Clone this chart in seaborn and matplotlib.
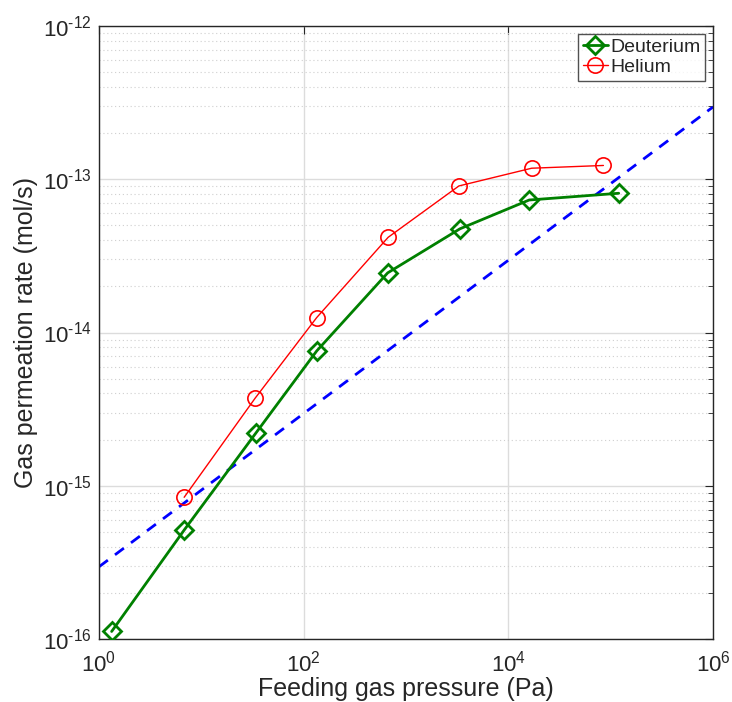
import numpy as np
import pandas as pd
import seaborn as sns
import matplotlib
matplotlib.use("Agg")
import matplotlib.pyplot as plt
from matplotlib.ticker import LogLocator, NullLocator, NullFormatter, FuncFormatter

# Data
deut_pressure = [1.33, 6.8, 34, 134, 663, 3370, 16000, 120000]
deut_rate = [1.12e-16, 5.14e-16, 2.20e-15, 7.57e-15, 2.45e-14, 4.75e-14, 7.32e-14, 8.10e-14]

he_pressure = [6.8, 33.5, 134, 670, 3290, 16900, 85000]
he_rate = [8.41e-16, 3.72e-15, 1.25e-14, 4.18e-14, 9.04e-14, 1.18e-13, 1.23e-13]

# dashed reference line (end points)
ref_pressure = [1, 1e6]
ref_rate = [2.96e-16, 2.96e-13]

x_ticks = [1, 1e2, 1e4, 1e6]
y_ticks = [1e-16, 1e-15, 1e-14, 1e-13, 1e-12]

sns.set_style("white")
plt.rcParams['font.family'] = ['Liberation Sans', 'DejaVu Sans']
plt.rcParams['mathtext.fontset'] = 'custom'
plt.rcParams['mathtext.rm'] = 'Liberation Sans'
plt.rcParams['mathtext.it'] = 'Liberation Sans:italic'
plt.rcParams['axes.unicode_minus'] = False

df_d = pd.DataFrame({'p': deut_pressure, 'r': deut_rate})
df_h = pd.DataFrame({'p': he_pressure, 'r': he_rate})
df_ref = pd.DataFrame({'p': ref_pressure, 'r': ref_rate})

fig = plt.figure(figsize=(7.32, 7.02), dpi=100)
ax = fig.add_axes([0.1352, 0.0897, 0.974 - 0.1352, 0.963 - 0.0897])

sns.lineplot(data=df_d, x='p', y='r', ax=ax, sort=False, color='#008000', lw=2,
             marker='D', markersize=9, markerfacecolor='none', markeredgecolor='#008000',
             markeredgewidth=2, label='Deuterium', zorder=3)
sns.lineplot(data=df_h, x='p', y='r', ax=ax, sort=False, color='#ff0000', lw=1,
             marker='o', markersize=11, markerfacecolor='none', markeredgecolor='#ff0000',
             markeredgewidth=1.2, label='Helium', zorder=3)
sns.lineplot(data=df_ref, x='p', y='r', ax=ax, sort=False, color='#0000ff', lw=2,
             linestyle=(0, (4, 3.2)), zorder=2, legend=False)

ax.set_xscale('log')
ax.set_yscale('log')
ax.set_xlim(1, 1e6)
ax.set_ylim(1e-16, 1e-12)

# MATLAB style labels: 10^-16 with a short hyphen
def pow10(v, pos):
    e = int(round(np.log10(v)))
    if e < 0:
        return r'$10^{\text{-}%d}$' % (-e)
    return r'$10^{%d}$' % e

ax.set_xticks(x_ticks)
ax.xaxis.set_minor_locator(NullLocator())
ax.xaxis.set_major_formatter(FuncFormatter(pow10))
ax.set_yticks(y_ticks)
ax.yaxis.set_minor_locator(LogLocator(base=10, subs=np.arange(2, 10), numticks=20))
ax.yaxis.set_minor_formatter(NullFormatter())
ax.yaxis.set_major_formatter(FuncFormatter(pow10))

ax.grid(which='major', color='#dcdcdc', lw=1, linestyle='-')
ax.grid(which='minor', axis='y', color='#cfcfcf', lw=0.8, linestyle=(0, (1, 2.5)))
ax.set_axisbelow(True)

ax.tick_params(which='both', direction='in', top=True, right=True, colors='#262626',
               labelsize=16)
ax.tick_params(axis='x', pad=8)
ax.tick_params(axis='y', pad=5)
ax.tick_params(which='major', length=6)
ax.tick_params(which='minor', length=3.5)
for s in ax.spines.values():
    s.set_color('#262626')
    s.set_linewidth(1)

ax.set_xlabel('Feeding gas pressure (Pa)', fontsize=18, color='#262626')
ax.set_ylabel('Gas permeation rate (mol/s)', fontsize=18, color='#262626')
ax.xaxis.set_label_coords(0.5, -0.062)
ax.yaxis.set_label_coords(-0.099, 0.5)

leg = ax.legend(loc='upper right', fontsize=14, frameon=True, fancybox=False,
                borderpad=0.25, handlelength=1.3, handletextpad=0.1, labelspacing=0.1,
                borderaxespad=0.4)
leg.get_frame().set_edgecolor('#262626')
leg.get_frame().set_linewidth(1)

fig.savefig('out.png', dpi=100)
